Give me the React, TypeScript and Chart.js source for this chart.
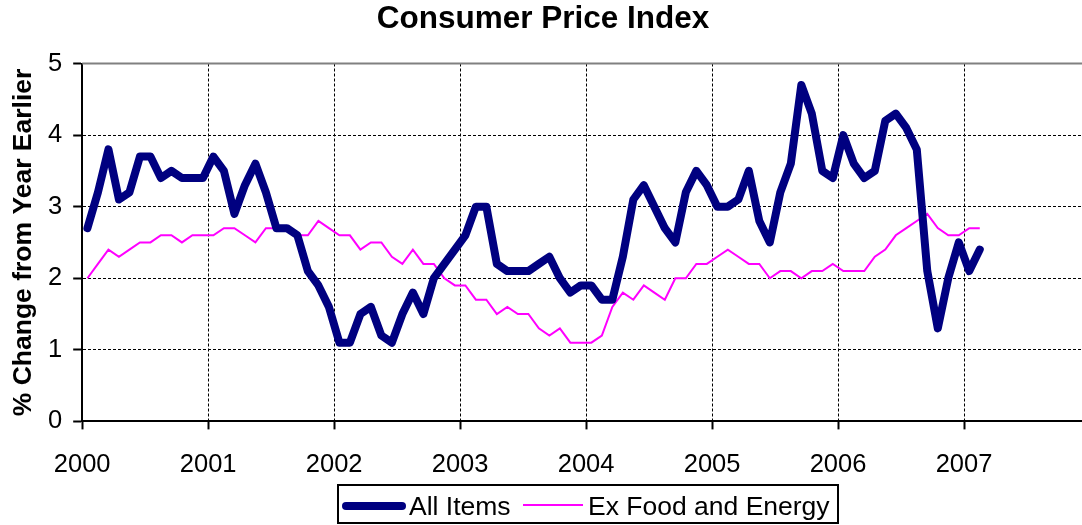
import { useEffect, useRef } from 'react';
import { Chart, registerables } from 'chart.js';

Chart.register(...registerables);

const FONT = "'Liberation Sans', Arial, Helvetica, sans-serif";

const chartTitle = 'Consumer Price Index';
const yAxisTitle = '% Change from Year Earlier';
const startYear = 2000;
const yearTicks = [2000, 2001, 2002, 2003, 2004, 2005, 2006, 2007];
const seriesNames = ['All Items', 'Ex Food and Energy'];

// Monthly year-over-year % change, Jan 2000 .. Feb 2007
const allItems = [
  2.7, 3.2, 3.8, 3.1, 3.2, 3.7, 3.7, 3.4, 3.5, 3.4, 3.4, 3.4,
  3.7, 3.5, 2.9, 3.3, 3.6, 3.2, 2.7, 2.7, 2.6, 2.1, 1.9, 1.6,
  1.1, 1.1, 1.5, 1.6, 1.2, 1.1, 1.5, 1.8, 1.5, 2.0, 2.2, 2.4,
  2.6, 3.0, 3.0, 2.2, 2.1, 2.1, 2.1, 2.2, 2.3, 2.0, 1.8, 1.9,
  1.9, 1.7, 1.7, 2.3, 3.1, 3.3, 3.0, 2.7, 2.5, 3.2, 3.5, 3.3,
  3.0, 3.0, 3.1, 3.5, 2.8, 2.5, 3.2, 3.6, 4.7, 4.3, 3.5, 3.4,
  4.0, 3.6, 3.4, 3.5, 4.2, 4.3, 4.1, 3.8, 2.1, 1.3, 2.0, 2.5,
  2.1, 2.4,
];

const exFoodEnergy = [
  2.0, 2.2, 2.4, 2.3, 2.4, 2.5, 2.5, 2.6, 2.6, 2.5, 2.6, 2.6,
  2.6, 2.7, 2.7, 2.6, 2.5, 2.7, 2.7, 2.7, 2.6, 2.6, 2.8, 2.7,
  2.6, 2.6, 2.4, 2.5, 2.5, 2.3, 2.2, 2.4, 2.2, 2.2, 2.0, 1.9,
  1.9, 1.7, 1.7, 1.5, 1.6, 1.5, 1.5, 1.3, 1.2, 1.3, 1.1, 1.1,
  1.1, 1.2, 1.6, 1.8, 1.7, 1.9, 1.8, 1.7, 2.0, 2.0, 2.2, 2.2,
  2.3, 2.4, 2.3, 2.2, 2.2, 2.0, 2.1, 2.1, 2.0, 2.1, 2.1, 2.2,
  2.1, 2.1, 2.1, 2.3, 2.4, 2.6, 2.7, 2.8, 2.9, 2.7, 2.6, 2.6,
  2.7, 2.7,
];

const toPoints = (vals: number[]) => vals.map((v, i) => ({ x: i + 0.5, y: v }));

const frameAndLegend = {
  id: 'frameAndLegend',
  beforeDatasetsDraw(chart: any) {
    const { ctx, chartArea } = chart;
    ctx.save();
    ctx.strokeStyle = '#808080';
    ctx.lineWidth = 2;
    ctx.beginPath();
    ctx.moveTo(chartArea.left, chartArea.top);
    ctx.lineTo(chartArea.right, chartArea.top);
    ctx.lineTo(chartArea.right, chartArea.bottom);
    ctx.stroke();
    ctx.restore();
  },
  afterDraw(chart: any) {
    const { ctx } = chart;
    const ds = chart.data.datasets;
    ctx.save();
    // title
    ctx.fillStyle = '#000000';
    ctx.font = `bold 31.5px ${FONT}`;
    ctx.textAlign = 'center';
    ctx.textBaseline = 'middle';
    ctx.fillText(chartTitle, 543, 19.5);
    ctx.textAlign = 'left';
    // legend box
    ctx.fillStyle = '#ffffff';
    ctx.fillRect(338, 485, 500, 38);
    ctx.strokeStyle = '#000000';
    ctx.lineWidth = 2;
    ctx.strokeRect(338, 485, 500, 38);
    ctx.font = `26.5px ${FONT}`;
    ctx.fillStyle = '#000000';
    // sample 1
    ctx.lineCap = 'round';
    ctx.strokeStyle = ds[0].borderColor;
    ctx.lineWidth = ds[0].borderWidth;
    ctx.beginPath();
    ctx.moveTo(346, 506);
    ctx.lineTo(402, 506);
    ctx.stroke();
    ctx.fillText(ds[0].label, 409, 508);
    // sample 2
    ctx.lineCap = 'butt';
    ctx.strokeStyle = ds[1].borderColor;
    ctx.lineWidth = ds[1].borderWidth;
    ctx.beginPath();
    ctx.moveTo(523, 505);
    ctx.lineTo(583, 505);
    ctx.stroke();
    ctx.fillText(ds[1].label, 588, 508);
    ctx.restore();
  },
};

export default function App() {
  const ref = useRef<HTMLCanvasElement>(null);

  useEffect(() => {
    document.body.style.margin = '0';
    document.body.style.overflow = 'hidden';
    const canvas = ref.current;
    if (!canvas) return;
    const chart = new Chart(canvas, {
      type: 'line',
      data: {
        datasets: [
          {
            label: seriesNames[0],
            data: toPoints(allItems),
            borderColor: '#000080',
            backgroundColor: '#000080',
            borderWidth: 8,
            borderJoinStyle: 'round',
            borderCapStyle: 'round',
            pointRadius: 0,
            tension: 0,
          },
          {
            label: seriesNames[1],
            data: toPoints(exFoodEnergy),
            borderColor: '#FF00FF',
            backgroundColor: '#FF00FF',
            borderWidth: 2,
            pointRadius: 0,
            tension: 0,
          },
        ],
      },
      options: {
        responsive: false,
        animation: false,
        devicePixelRatio: 1,
        layout: { padding: { left: 8, right: 8, top: 63.5, bottom: 25 } },
        plugins: {
          legend: { display: false },
          tooltip: { enabled: false },
          title: { display: false },
        },
        scales: {
          x: {
            type: 'linear',
            min: 0,
            max: 96,
            afterBuildTicks: (scale: any) => {
              scale.ticks = yearTicks.map((y) => ({ value: (y - startYear) * 12 }));
            },
            ticks: {
              autoSkip: false,
              maxRotation: 0,
              color: '#000',
              padding: 20,
              font: { family: FONT, size: 25.5 },
              callback: (v: any) => String(startYear + Math.round(Number(v) / 12)),
            },
            grid: {
              color: '#000',
              lineWidth: 1,
              tickLength: 8,
              tickColor: '#000',
              tickWidth: 2,
            },
            border: { display: true, color: '#000', width: 2, dash: [3, 2] },
          },
          y: {
            type: 'linear',
            min: 0,
            max: 5,
            ticks: {
              stepSize: 1,
              color: '#000',
              padding: 11,
              font: { family: FONT, size: 25.5 },
            },
            grid: {
              color: (c: any) => (c.tick && c.tick.value === 5 ? 'rgba(0,0,0,0)' : '#000'),
              lineWidth: 1,
              tickLength: 9,
              tickColor: '#000',
              tickWidth: 2,
            },
            border: { display: true, color: '#000', width: 2, dash: [3, 2] },
            title: {
              display: true,
              text: yAxisTitle,
              color: '#000',
              font: { family: FONT, size: 26.5, weight: 'bold', lineHeight: 1 },
              padding: { top: 2.5, bottom: 0 },
            },
          },
        },
      },
      plugins: [frameAndLegend],
    });
    return () => chart.destroy();
  }, []);

  return (
    <div style={{ width: 1082, height: 525, overflow: 'hidden', background: '#fff' }}>
      <canvas ref={ref} width={1098} height={525} style={{ width: 1098, height: 525, display: 'block' }} />
    </div>
  );
}
